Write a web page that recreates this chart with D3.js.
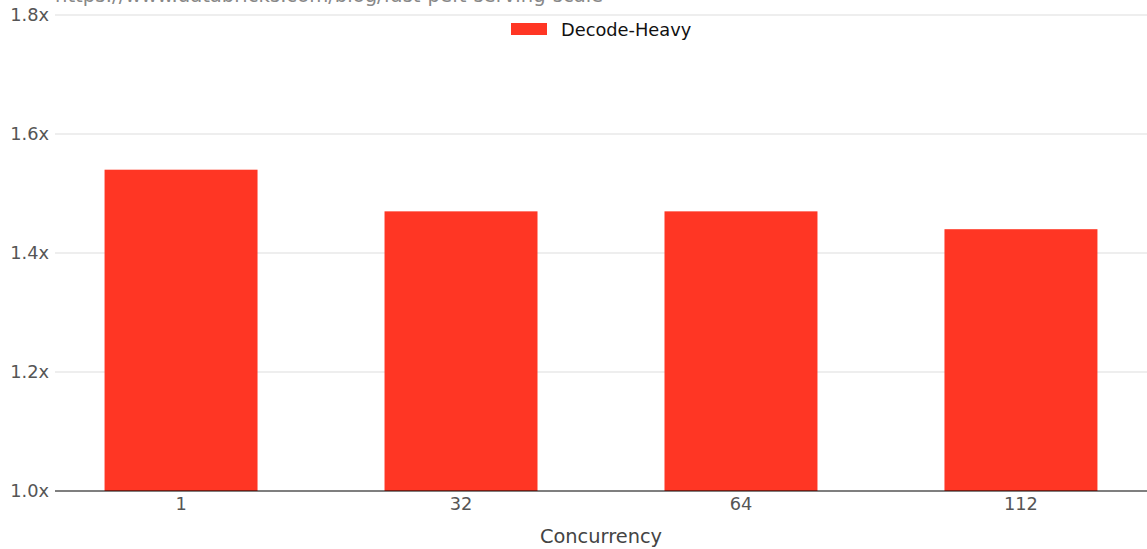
<!DOCTYPE html>
<html>
<head>
<meta charset="utf-8">
<script src="https://cdn.jsdelivr.net/npm/d3@7"></script>
<style>
  html, body { margin: 0; padding: 0; background: #fff; }
  svg { display: block; font-family: "DejaVu Sans", sans-serif; }
</style>
</head>
<body>
<svg id="chart" width="1147" height="549"></svg>
<script>
const categories = ["1", "32", "64", "112"];
const speedups = [1.54, 1.47, 1.47, 1.44];
const yTicks = [1.0, 1.2, 1.4, 1.6, 1.8];
const seriesName = "Decode-Heavy";
const sourceUrl = "https://www.databricks.com/blog/fast-peft-serving-scale";

const W = 1147, H = 549;
const margin = { left: 55, right: 0, top: 15, bottom: 58 };
const svg = d3.select("#chart");

const x = d3.scaleBand()
  .domain(categories)
  .range([margin.left, W - margin.right])
  .paddingInner(0.4536)
  .paddingOuter(0.177);

const y = d3.scaleLinear()
  .domain([1.0, 1.8])
  .range([H - margin.bottom, margin.top]);

// horizontal grid
svg.append("g")
  .selectAll("line")
  .data(yTicks.filter(t => t > 1.0))
  .join("line")
  .attr("x1", margin.left).attr("x2", W)
  .attr("y1", d => y(d)).attr("y2", d => y(d))
  .attr("stroke", "#dddddd").attr("stroke-width", 1.2);

// bars
svg.append("g")
  .selectAll("rect")
  .data(categories.map((c, i) => ({ c, v: speedups[i] })))
  .join("rect")
  .attr("x", d => x(d.c))
  .attr("width", x.bandwidth())
  .attr("y", d => y(d.v))
  .attr("height", d => y(1.0) - y(d.v))
  .attr("fill", "#ff3624");

// y axis labels
const yAxis = svg.append("g")
  .attr("transform", `translate(${margin.left},0)`)
  .call(d3.axisLeft(y).tickValues(yTicks).tickFormat(d => d3.format(".1f")(d) + "x").tickSize(0).tickPadding(6));
yAxis.select(".domain").remove();
yAxis.selectAll("text").attr("fill", "#555").attr("font-size", 17.8).attr("font-family", "DejaVu Sans");

// x axis
const xAxis = svg.append("g")
  .attr("transform", `translate(0,${y(1.0)})`)
  .call(d3.axisBottom(x).tickSize(0).tickPadding(6));
xAxis.select(".domain").remove();
xAxis.selectAll("text").attr("fill", "#555").attr("font-size", 17.8).attr("font-family", "DejaVu Sans");
svg.append("line")
  .attr("x1", margin.left).attr("x2", W)
  .attr("y1", y(1.0)).attr("y2", y(1.0))
  .attr("stroke", "#000").attr("stroke-width", 1.2);

// axis title
svg.append("text")
  .attr("x", (margin.left + W) / 2)
  .attr("y", 543)
  .attr("text-anchor", "middle")
  .attr("fill", "#444")
  .attr("font-size", 19.4)
  .text("Concurrency");

// source line
svg.append("text")
  .attr("x", margin.left)
  .attr("y", 2)
  .attr("fill", "#888")
  .attr("font-size", 19.6)
  .text(sourceUrl);

// legend
const lg = svg.append("g").attr("transform", "translate(511,23)");
lg.append("rect").attr("width", 36).attr("height", 12).attr("fill", "#ff3624");
lg.append("text").attr("x", 50).attr("y", 12.5).attr("fill", "#111")
  .attr("font-size", 17.8).text(seriesName);
</script>
</body>
</html>
